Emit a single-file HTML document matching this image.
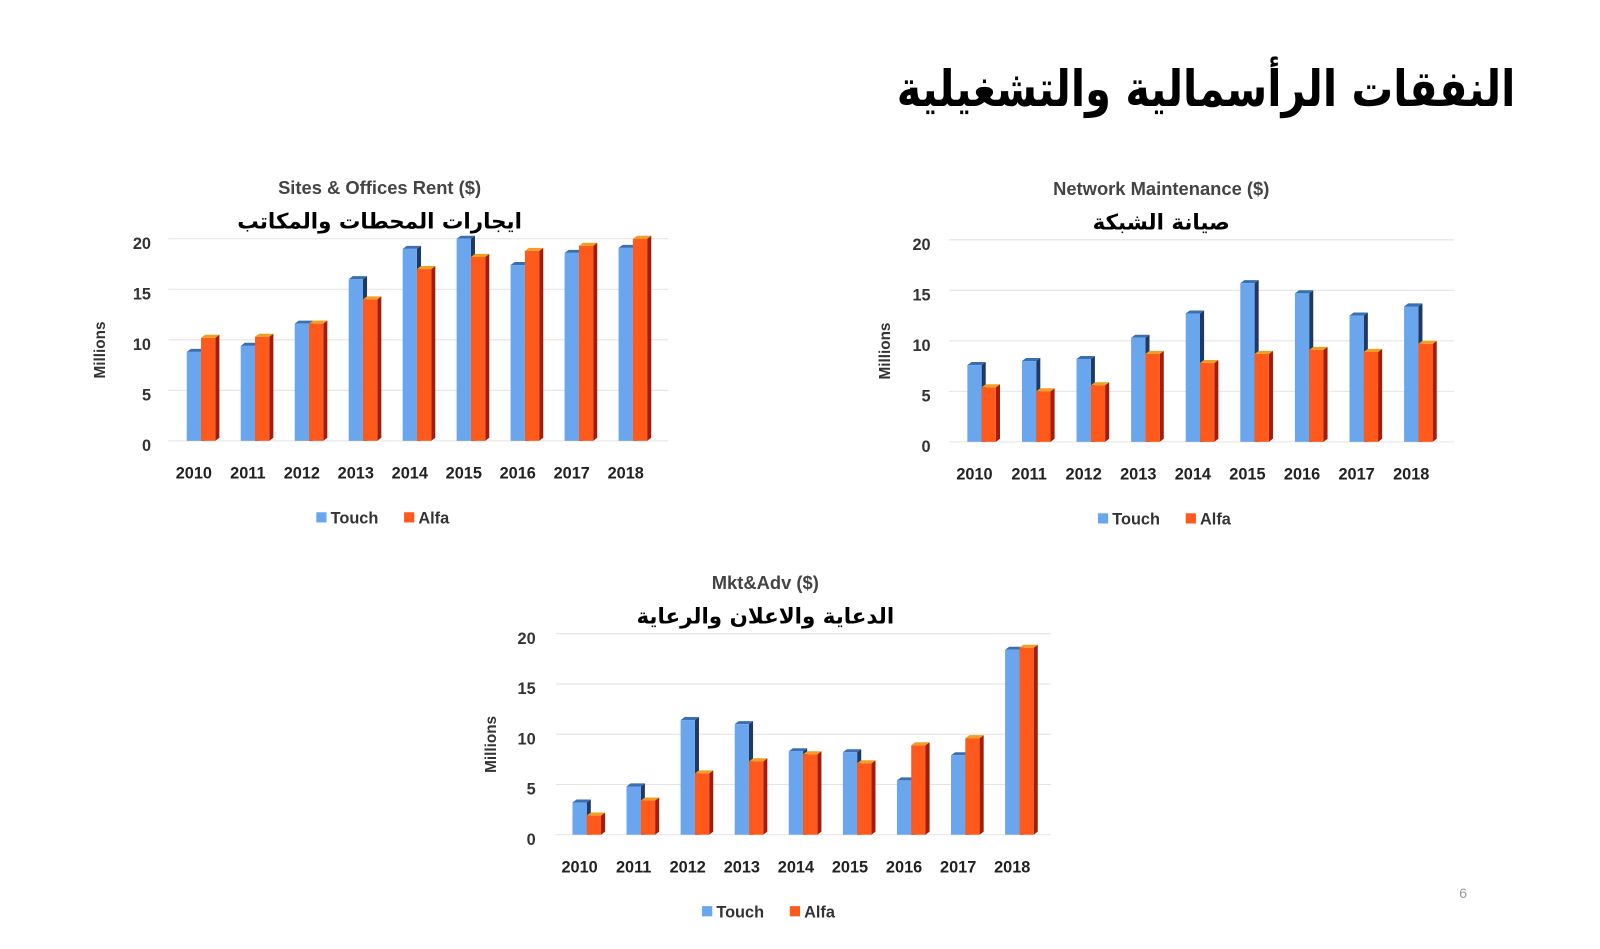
<!DOCTYPE html>
<html><head><meta charset="utf-8"><style>
html,body{margin:0;padding:0;background:#fff;}
body{width:1600px;height:949px;overflow:hidden;position:relative;}
#h{position:absolute;right:85px;top:60px;direction:rtl;font:bold 50px "DejaVu Sans","Liberation Sans",sans-serif;color:#000;white-space:nowrap;transform:scaleX(0.83);transform-origin:right center;}
</style></head><body>
<svg id="s" width="1600" height="949" viewBox="0 0 1568 930" xmlns="http://www.w3.org/2000/svg" font-family="Liberation Sans, DejaVu Sans, sans-serif" style="position:absolute;left:0;top:0">
<rect width="1568" height="930" fill="#fff"/>
<text x="1430" y="880" font-size="14" fill="#999">6</text>
</svg>
<div id="h">النفقات الرأسمالية والتشغيلية</div>
<script>
var s=document.getElementById('s'),NS='http://www.w3.org/2000/svg';
function el(t,a,txt){var e=document.createElementNS(NS,t);for(var k in a)e.setAttribute(k,a[k]);if(txt!=null)e.textContent=txt;s.appendChild(e);return e;}
function chart(o){
 var unit=(o.y0-o.y20)/20;
 for(var v=0;v<=20;v+=5){var y=o.y0-v*unit;
  el('line',{x1:o.gx1,x2:o.gx2,y1:y-4,y2:y-4,stroke:'#e4e4e4','stroke-width':1});
  el('text',{x:o.lx,y:y+6,'text-anchor':'end','font-size':16,'font-weight':'bold',fill:'#333'},v);}
 for(var i=0;i<9;i++){var c=o.c0+i*o.sp,b=o.y0-4;
  var ht=o.t[i]*unit,ha=o.a[i]*unit;
  el('polygon',{points:(c+6)+','+(b-ht)+' '+(c+10)+','+(b-ht-3)+' '+(c+10)+','+b+' '+(c+6)+','+b,fill:'#1f3864'});
  el('polygon',{points:(c-8)+','+(b-ht)+' '+(c-4)+','+(b-ht-3)+' '+(c+10)+','+(b-ht-3)+' '+(c+6)+','+(b-ht),fill:'#3a6fb0'});
  el('rect',{x:c-8,y:b-ht,width:14,height:ht,fill:'#6aa6ee'});
  el('polygon',{points:(c+20)+','+(b-ha)+' '+(c+24)+','+(b-ha-3)+' '+(c+24)+','+(b-3)+' '+(c+20)+','+b,fill:'#a31d0a'});
  el('polygon',{points:(c+6)+','+(b-ha)+' '+(c+10)+','+(b-ha-3)+' '+(c+24)+','+(b-ha-3)+' '+(c+20)+','+(b-ha),fill:'#f0a020'});
  el('rect',{x:c+6,y:b-ha,width:14,height:ha,fill:'#ff5a1c'});
  el('text',{x:c-1,y:o.y0+33,'text-anchor':'middle','font-size':16,'font-weight':'bold',fill:'#222'},2010+i);}
 var my=(o.y0+o.y20)/2+6;
 el('text',{x:o.mx,y:my,'text-anchor':'middle','font-size':15,'font-weight':'bold',fill:'#333',transform:'rotate(-90 '+o.mx+' '+my+')'},'Millions');
 el('text',{x:o.tx,y:o.y20-48,'text-anchor':'middle','font-size':18,'font-weight':'bold',fill:'#444'},o.title);
 el('text',{x:o.tx,y:o.y20-14,'text-anchor':'middle','font-size':21,'font-weight':'bold',fill:'#000','font-family':'DejaVu Sans, sans-serif'},o.ar);
 var ly=o.y0+77;
 el('rect',{x:o.lgx,y:ly-11,width:10,height:10,fill:'#6aa6ee'});
 el('text',{x:o.lgx+14,y:ly,'font-size':16,'font-weight':'bold',fill:'#333'},'Touch');
 el('rect',{x:o.lgx+86,y:ly-11,width:10,height:10,fill:'#ff5a1c'});
 el('text',{x:o.lgx+100,y:ly,'font-size':16,'font-weight':'bold',fill:'#333'},'Alfa');
}
chart({y0:436,y20:238,c0:191,sp:52.9,gx1:165,gx2:655,lx:148,mx:103,tx:372,lgx:310,title:'Sites & Offices Rent ($)',ar:'ايجارات المحطات والمكاتب',
 t:[8.8,9.4,11.6,16,19,20,17.4,18.6,19.1],a:[10.2,10.3,11.6,14,17,18.2,18.8,19.3,20]});
chart({y0:437,y20:239,c0:956,sp:53.5,gx1:930,gx2:1425,lx:912,mx:872,tx:1138,lgx:1076,title:'Network Maintenance ($)',ar:'صيانة الشبكة',
 t:[7.6,8,8.2,10.3,12.7,15.7,14.7,12.5,13.4],a:[5.4,5,5.6,8.7,7.8,8.7,9.1,8.9,9.7]});
chart({y0:822,y20:625,c0:569,sp:53,gx1:545,gx2:1030,lx:525,mx:486,tx:750,lgx:688,title:'Mkt&Adv ($)',ar:'الدعاية والاعلان والرعاية',
 t:[3.2,4.8,11.4,11,8.3,8.2,5.4,7.9,18.4],a:[1.9,3.4,6.1,7.3,8,7.1,8.9,9.6,18.6]});
</script>
</body></html>
